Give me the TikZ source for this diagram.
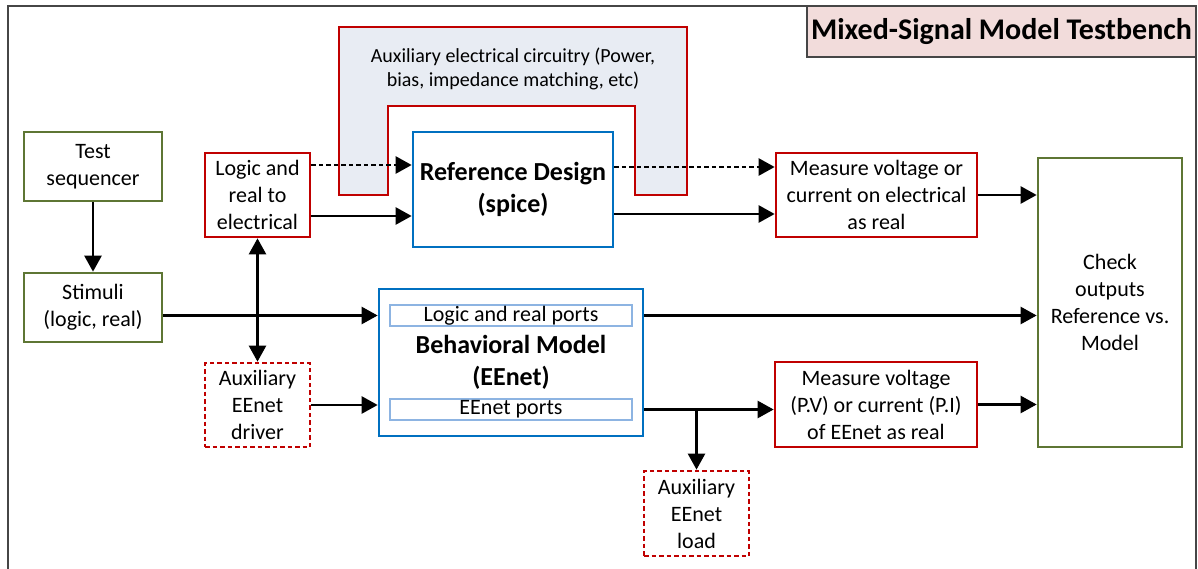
\documentclass[tikz,border=0pt]{standalone}
\usepackage{fontspec}
\setmainfont{Carlito}
\usetikzlibrary{arrows.meta}
\definecolor{cred}{RGB}{192,0,0}
\definecolor{cblue}{RGB}{0,112,192}
\definecolor{cgreen}{RGB}{94,118,52}
\definecolor{cport}{RGB}{141,180,226}
\definecolor{cauxfill}{RGB}{232,236,243}
\definecolor{ctitle}{RGB}{242,220,219}
\definecolor{cframe}{RGB}{70,70,70}
\begin{document}
\begin{tikzpicture}[x=1pt,y=-1pt,
  box/.style={draw, line width=2.7pt, align=center, inner sep=0pt, fill=white,
    font=\fontsize{22}{27}\selectfont},
  gbox/.style={box, draw=cgreen},
  rbox/.style={box, draw=cred},
  dbox/.style={box, draw=cred, dash pattern=on 4.5pt off 3pt},
  bbox/.style={box, draw=cblue},
  pbox/.style={draw=cport, line width=1.6pt, fill=white, inner sep=0pt, minimum width=242pt, minimum height=21pt,
    font=\fontsize{22}{24}\selectfont},
  bold/.style={font=\bfseries\fontsize{26}{32}\selectfont},
  arr/.style={line width=2.5pt, -{Triangle[length=16pt,width=17pt]}},
  darr/.style={arr, dash pattern=on 4.5pt off 3pt},
  dblarr/.style={line width=2.5pt, {Triangle[length=16pt,width=17pt]}-{Triangle[length=16pt,width=17pt]}}
]
\useasboundingbox (0,0) rectangle (1198,569);
% outer frame
\draw[cframe, line width=1.3pt] (8,575) -- (8,6) -- (1196,6) -- (1196,575);
% title
\node[draw=cframe, fill=ctitle, line width=1.2pt, minimum width=389pt, minimum height=51pt, inner sep=0pt,
  font=\bfseries\fontsize{30}{32}\selectfont] (title) at (1001.5,31.5) {Mixed-Signal Model Testbench};
% auxiliary circuitry
\draw[cred, fill=cauxfill, line width=2.7pt] (339,27) -- (687,27) -- (687,195) -- (635,195) -- (635,106)
  -- (388,106) -- (388,195) -- (339,195) -- cycle;
\node[align=center, font=\fontsize{20}{24}\selectfont] (auxtxt) at (513,69)
  {Auxiliary electrical circuitry (Power,\\bias, impedance matching, etc)};
% boxes
\node[gbox, minimum width=138pt, minimum height=69pt] (seq) at (93,166.5) {Test\\sequencer};
\node[gbox, minimum width=138pt, minimum height=69pt] (stim) at (93,307.5) {Stimuli\\(logic, real)};
\node[rbox, minimum width=105pt, minimum height=84pt] (l2e) at (257.5,195) {Logic and\\real to\\electrical};
\node[dbox, minimum width=105pt, minimum height=84pt] (drv) at (257.5,405) {Auxiliary\\EEnet\\driver};
\node[bbox, bold, minimum width=200pt, minimum height=115pt] (ref) at (513,189.5) {Reference Design\\(spice)};
\node[bbox, bold, minimum width=264pt, minimum height=147pt] (bm) at (511,362.5) {Behavioral Model\\(EEnet)};
\node[pbox] (p1) at (511,315.5) {Logic and real ports};
\node[pbox] (p2) at (511,409.5) {EEnet ports};
\node[rbox, minimum width=201pt, minimum height=84pt] (m1) at (876.5,195) {Measure voltage or\\current on electrical\\as real};
\node[rbox, minimum width=202pt, minimum height=85pt] (m2) at (876,404.5) {Measure voltage\\(P.V) or current (P.I)\\of EEnet as real};
\node[dbox, minimum width=105pt, minimum height=85pt] (load) at (696.5,513.5) {Auxiliary\\EEnet\\load};
\node[gbox, minimum width=144pt, minimum height=289pt] (chk) at (1110,302.5) {Check\\outputs\\Reference vs.\\Model};
% helper coordinates
\coordinate (l2ea) at ([yshift=30pt]l2e.east);
\coordinate (l2eb) at ([yshift=-21pt]l2e.east);
\coordinate (m1a) at ([yshift=28pt]m1.west);
\coordinate (m1b) at ([yshift=-19pt]m1.west);
\coordinate (jn) at (load.north |- p2);
% connectors
\draw[arr] (seq) -- (stim);
\draw[dblarr] (l2e) -- (drv);
\draw[darr] (l2ea) -- (ref.west |- l2ea);
\draw[arr] (l2eb) -- (ref.west |- l2eb);
\draw[darr] (ref.east |- m1a) -- (m1a);
\draw[arr] (ref.east |- m1b) -- (m1b);
\draw[arr] (m1) -- (chk.west |- m1.east);
\draw[arr] (stim.east |- p1) -- (bm.west |- p1);
\draw[arr] (drv.east) -- (bm.west |- drv.east);
\draw[arr] (bm.east |- p1) -- (chk.west |- p1);
\draw[arr] (bm.east |- p2) -- (m2.west |- p2);
\draw[arr] (jn) -- (load.north);
\draw[arr] (m2) -- (chk.west |- m2.east);
\end{tikzpicture}
\end{document}
